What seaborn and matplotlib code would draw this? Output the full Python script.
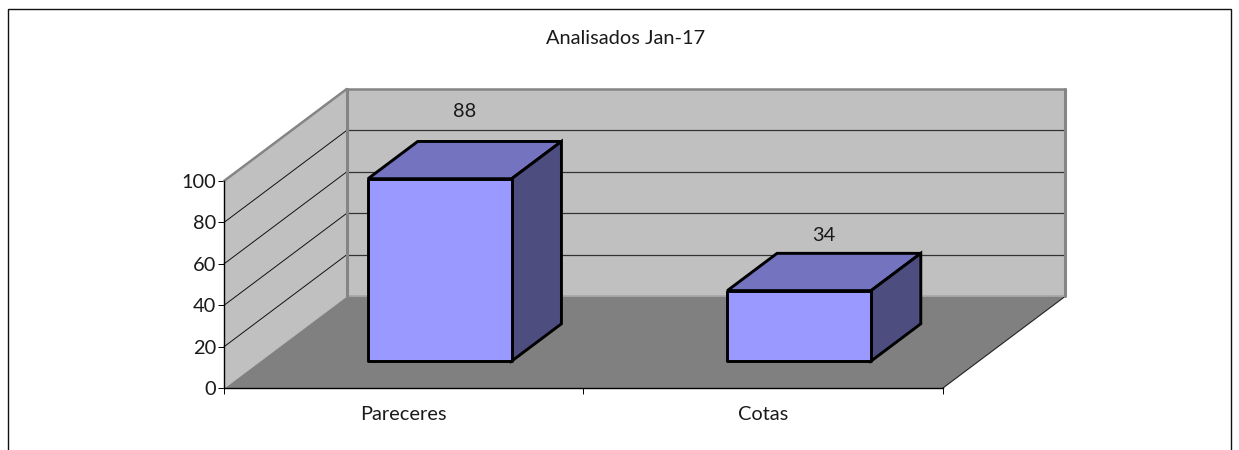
import matplotlib
matplotlib.use("Agg")
import matplotlib.pyplot as plt
from matplotlib.patches import Rectangle
from matplotlib.transforms import Affine2D
import pandas as pd
import seaborn as sns

categories = ["Pareceres", "Cotas"]
values = [88, 34]
y_ticks = [0, 20, 40, 60, 80, 100]
title = "Analisados Jan-17"

W, H = 1239, 450
FS = 14.4
sns.set_theme(style="white")
plt.rcParams["font.family"] = ["Lato", "DejaVu Sans"]
plt.rcParams["text.color"] = "#1a1a1a"

fig = plt.figure(figsize=(W / 100, H / 100), dpi=100, facecolor="white")
# front plane of the oblique box, in pixels
L, R, T, B = 224.0, 942.7, 181.0, 388.2
ax = fig.add_axes([L / W, 1 - B / H, (R - L) / W, (B - T) / H])
ax.patch.set_visible(False)

df = pd.DataFrame({"cat": categories, "val": values})
FRONT = "#9999FF"
LW = 2.1
sns.barplot(data=df, x="cat", y="val", width=0.4, color=FRONT, saturation=1,
            edgecolor="black", linewidth=LW, ax=ax, zorder=5)
ax.set_xlim(-0.5, 1.5)
ax.set_ylim(0, 100)
ax.set_xlabel("")
ax.set_ylabel("")

# depth vector: one full depth in data units
DX = 122.7 / ((R - L) / 2)
DY = 92.0 / ((B - T) / 100)
D0, D1 = 0.295, 0.70


def prj(x, y, d):
    return x + d * DX, y + d * DY


def poly(pts, **kw):
    xs, ys = zip(*[prj(*p) for p in pts])
    ax.fill(xs, ys, clip_on=False, **kw)


def seg(a, b, **kw):
    xs, ys = zip(prj(*a), prj(*b))
    ax.plot(xs, ys, clip_on=False, solid_capstyle="round", **kw)


x0, x1 = -0.5, 1.5
WALL, FLOOR, EDGE = "#C0C0C0", "#808080", "#858585"
poly([(x0, 0, 0), (x1, 0, 0), (x1, 0, 1), (x0, 0, 1)], color=FLOOR, lw=0, zorder=1)
poly([(x0, 0, 0), (x0, 100, 0), (x0, 100, 1), (x0, 0, 1)], color=WALL, lw=0, zorder=1)
poly([(x0, 0, 1), (x0, 100, 1), (x1, 100, 1), (x1, 0, 1)], color=WALL, lw=0, zorder=1)
for t in y_ticks[1:-1]:
    seg((x0, t, 0), (x0, t, 1), color="#111111", lw=0.7, zorder=2)
    seg((x0, t, 1), (x1, t, 1), color="#333333", lw=0.9, zorder=2)
seg((x0, 0, 0), (x0, 0, 1), color="#BDBDBD", lw=0.8, zorder=2)
seg((x1, 0, 0), (x1, 0, 1), color="#222222", lw=0.8, zorder=2)
seg((x0, 100, 0), (x0, 100, 1), color=EDGE, lw=1.8, zorder=3)
seg((x0, 100, 1), (x1, 100, 1), color=EDGE, lw=1.8, zorder=3)
seg((x0, 0, 1), (x0, 100, 1), color=EDGE, lw=2.2, zorder=3)
seg((x1, 0, 1), (x1, 100, 1), color=EDGE, lw=2.2, zorder=3)
seg((x0, 0, 1), (x1, 0, 1), color="#A6A6A6", lw=1.2, zorder=2)

# push the seaborn front faces back to the bar's front depth, add top and side
shift = Affine2D().translate(D0 * DX, D0 * DY)
for bar, v in zip(ax.patches, values):
    bar.set_transform(shift + ax.transData)
    bar.set_clip_on(False)
    bar.set_joinstyle("round")
    a, b = bar.get_x(), bar.get_x() + bar.get_width()
    poly([(a, v, D0), (b, v, D0), (b, v, D1), (a, v, D1)], facecolor="#7373BF",
         edgecolor="black", lw=LW, zorder=4)
    poly([(b, 0, D0), (b, v, D0), (b, v, D1), (b, 0, D1)], facecolor="#4D4D80",
         edgecolor="black", lw=LW, zorder=4)

# data labels above each bar
for i, (v, gap) in enumerate(zip(values, (30, 18))):
    px, py = prj(i, v, D1)
    cx, _ = prj(i, v, (D0 + D1) / 2)
    ax.annotate(str(v), (cx, py), xytext=(0, gap * 0.72), textcoords="offset points",
                ha="center", va="center", fontsize=FS, annotation_clip=False, zorder=6)

ax.set_yticks(y_ticks)
ax.set_xticks([0, 1], categories)
ax.set_xticks([-0.5, 0.5, 1.5], minor=True)
ax.tick_params(axis="x", which="major", length=0, pad=13, labelsize=FS, labelcolor="#1a1a1a")
ax.tick_params(axis="x", which="minor", length=4.3, width=0.7, color="black", bottom=True)
ax.tick_params(axis="y", length=4.3, width=0.7, color="black", left=True, pad=1.5,
               labelsize=FS, labelcolor="#1a1a1a")
sns.despine(ax=ax)
for s in ("left", "bottom"):
    ax.spines[s].set_color("black")
    ax.spines[s].set_linewidth(1.0)
    ax.spines[s].set_zorder(3)

fig.text(626 / W, 1 - 38.5 / H, title, ha="center", va="center", fontsize=FS)

# chart frame, its lower edge runs off the picture
fig.add_artist(Rectangle((7.5 / W, -0.1), (1231 - 7.5) / W, 1.1 - 9 / H,
                         transform=fig.transFigure, facecolor="none",
                         edgecolor="#111111", lw=1.0, clip_on=False))

fig.savefig("out.png", dpi=100)
